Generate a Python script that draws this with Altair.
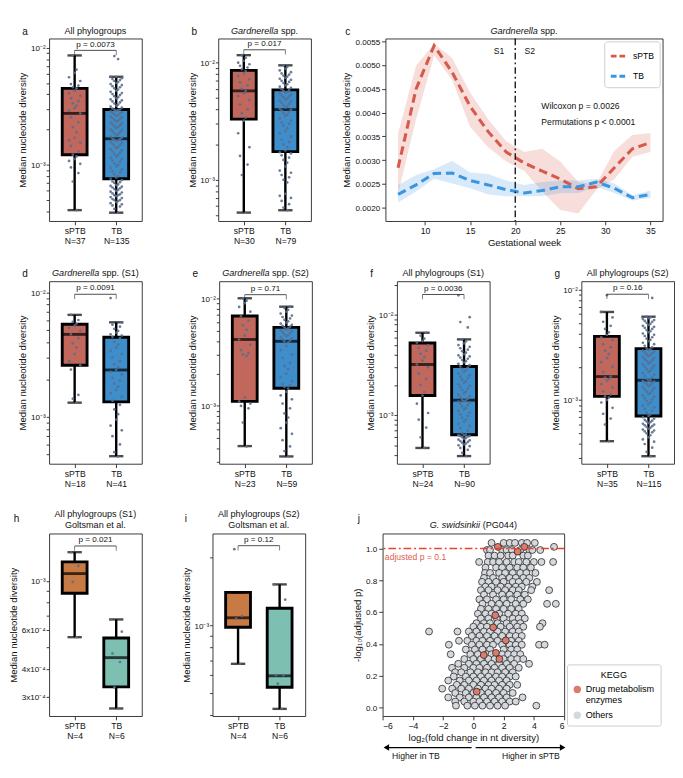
import altair as alt
import pandas as pd

FONT = "Liberation Sans"
RED_BOX = "#c1675c"
BLUE_BOX = "#3d8ecb"
ORANGE_BOX = "#c87a45"
TEAL_BOX = "#7dc0b2"
DOT = "#5a6e8d"
LINE_RED = "#d65a4c"
LINE_BLUE = "#3b96e0"
J_RED = "#dc7b6c"
J_GRAY = "#d5d9dd"
Y_TITLE = "Median nucleotide diversity"
WB = 97
H = 191

a_sptb = [0.41, 0.72, 0.85, 0.95, 1.02, 1.08, 1.12, 1.18, 1.22, 1.3, 1.45, 1.55, 1.62, 1.7, 1.9, 2.1, 2.3, 2.55,
          2.75, 2.9, 3.05, 3.2, 3.35, 3.5, 3.7, 3.9, 4.1, 4.3, 4.5, 4.6, 4.75, 4.9, 5.2, 5.6, 6.1, 6.5, 8.6]
a_tb = [0.39, 0.42, 0.44, 0.45, 0.46, 0.47, 0.48, 0.49, 0.50, 0.50, 0.51, 0.52, 0.53, 0.54, 0.55, 0.55, 0.56,
        0.57, 0.58, 0.59, 0.60, 0.61, 0.62, 0.63, 0.64, 0.65, 0.66, 0.67, 0.68, 0.70, 0.71, 0.72, 0.74, 0.76,
        0.78, 0.80, 0.83, 0.86, 0.88, 0.91, 0.94, 0.97, 1.0, 1.03, 1.06, 1.09, 1.12, 1.15, 1.18, 1.21, 1.24,
        1.27, 1.30, 1.33, 1.36, 1.39, 1.42, 1.45, 1.48, 1.51, 1.54, 1.57, 1.60, 1.62, 1.64, 1.66, 1.67,
        1.70, 1.74, 1.78, 1.82, 1.86, 1.90, 1.94, 1.98, 2.02, 2.06, 2.10, 2.14, 2.18, 2.22, 2.26, 2.30, 2.34,
        2.38, 2.42, 2.46, 2.50, 2.54, 2.58, 2.62, 2.66, 2.70, 2.74, 2.78, 2.82, 2.86, 2.90, 2.93, 2.95, 2.97,
        3.02, 3.08, 3.14, 3.2, 3.27, 3.34, 3.41, 3.48, 3.55, 3.62, 3.7, 3.78, 3.86, 3.94, 4.02, 4.1, 4.2, 4.3,
        4.4, 4.5, 4.6, 4.7, 4.8, 4.9, 5.0, 5.1, 5.2, 5.3, 5.4, 5.5, 5.65, 5.65, 8.0, 8.5]
a_stats = [[0.41, 1.22, 2.75, 4.5, 8.6], [0.39, 0.76, 1.67, 2.97, 5.65]]

b_sptb = [0.525, 1.1, 1.35, 1.6, 1.9, 2.5, 3.2, 3.4, 3.7, 4.0, 4.4, 4.8, 5.2, 5.5, 5.75, 6.0, 6.4, 6.8, 7.2, 7.7,
          8.1, 8.5, 8.8, 9.1, 9.4, 9.7, 10.0, 10.4, 11.0, 11.6]
b_tb = [0.55, 0.58, 0.62, 0.66, 0.70, 0.73, 0.76, 0.95, 1.0, 1.05, 1.1, 1.15, 1.2, 1.3, 1.4, 1.48, 1.55, 1.62,
        1.68, 1.72, 1.78, 1.9, 2.0, 2.1, 2.2, 2.35, 2.5, 2.6, 2.75, 2.9, 3.0, 3.1, 3.2, 3.35, 3.5, 3.6, 3.7, 3.8,
        3.9, 3.98, 4.05, 4.15, 4.25, 4.35, 4.45, 4.55, 4.65, 4.75, 4.85, 4.95, 5.05, 5.15, 5.25, 5.35, 5.45,
        5.55, 5.65, 5.75, 5.85, 5.95, 6.1, 6.25, 6.4, 6.55, 6.7, 6.85, 7.0, 7.15, 7.3, 7.45, 7.6, 7.75, 7.9,
        8.1, 8.3, 8.6, 8.9, 9.2, 9.5]
b_stats = [[0.525, 3.3, 5.75, 8.6, 11.6], [0.55, 1.74, 3.98, 5.86, 9.5]]

d_sptb = [1.3, 1.4, 1.5, 2.4, 2.6, 2.8, 3.2, 3.6, 3.9, 4.3, 4.6, 4.9, 5.2, 5.4, 5.6, 5.8, 6.0, 6.6]
d_tb = [0.48, 0.52, 0.6, 0.7, 0.78, 0.85, 0.95, 1.05, 1.15, 1.25, 1.35, 1.45, 1.55, 1.65, 1.75, 1.85, 1.95,
        2.05, 2.2, 2.3, 2.38, 2.5, 2.65, 2.8, 3.0, 3.2, 3.4, 3.6, 3.8, 4.0, 4.3, 4.4, 4.5, 4.6, 4.75, 4.9, 5.1,
        5.3, 5.5, 5.75, 9.0]
d_stats = [[1.3, 2.6, 4.6, 5.55, 6.6], [0.483, 1.32, 2.38, 4.36, 5.75]]

e_sptb = [0.42, 0.7, 0.95, 1.0, 1.05, 1.1, 1.2, 2.9, 3.0, 3.1, 3.3, 3.7, 4.14, 4.5, 5.1, 5.6, 6.2, 6.8, 7.5,
          8.3, 9.0, 9.5, 10.0]
e_tb = [0.34, 0.38, 0.42, 0.48, 0.55, 0.62, 0.7, 0.78, 0.85, 0.95, 1.05, 1.15, 1.25, 1.35, 1.45, 1.5, 1.55,
        1.6, 1.7, 1.85, 2.0, 2.2, 2.35, 2.5, 2.8, 3.0, 3.3, 3.6, 3.9, 3.98, 4.05, 4.15, 4.25, 4.35, 4.45, 4.55,
        4.65, 4.75, 4.85, 4.95, 5.05, 5.15, 5.25, 5.35, 5.45, 5.55, 5.65, 5.8, 5.95, 6.1, 6.3, 6.5, 6.7, 6.9,
        7.2, 7.5, 7.8, 8.1, 8.35]
e_stats = [[0.423, 1.1, 4.14, 6.84, 10.0], [0.339, 1.46, 3.98, 5.37, 8.35]]

f_sptb = [0.47, 0.6, 0.75, 0.9, 1.05, 1.3, 1.57, 1.7, 2.0, 2.3, 2.6, 3.0, 3.2, 3.5, 3.8, 4.1, 4.4, 4.7, 5.0,
          5.3, 5.5, 5.8, 6.2, 6.64]
f_tb = [0.39, 0.42, 0.45, 0.47, 0.49, 0.5, 0.51, 0.52, 0.53, 0.54, 0.55, 0.56, 0.57, 0.58, 0.59, 0.6, 0.61,
        0.62, 0.62, 0.63, 0.63, 0.64, 0.66, 0.7, 0.74, 0.78, 0.82, 0.86, 0.9, 0.94, 0.98, 1.02, 1.06, 1.1, 1.14,
        1.18, 1.22, 1.26, 1.3, 1.33, 1.36, 1.38, 1.4, 1.41, 1.45, 1.5, 1.55, 1.6, 1.66, 1.72, 1.78, 1.84, 1.9,
        1.96, 2.02, 2.1, 2.18, 2.26, 2.34, 2.42, 2.5, 2.6, 2.7, 2.8, 2.9, 2.98, 3.06, 3.15, 3.25, 3.35, 3.45,
        3.55, 3.65, 3.75, 3.85, 3.95, 4.05, 4.2, 4.35, 4.5, 4.65, 4.8, 5.0, 5.2, 5.45, 5.7, 7.5, 8.5, 9.5, 15.7]
f_stats = [[0.47, 1.57, 3.2, 5.25, 6.64], [0.39, 0.637, 1.41, 3.06, 5.7]]

g_sptb = [0.424, 0.6, 0.68, 0.75, 0.85, 0.95, 1.0, 1.05, 1.08, 1.12, 1.2, 1.3, 1.4, 1.5, 1.55, 1.6, 1.63, 1.8,
          2.0, 2.2, 2.4, 2.6, 2.8, 3.0, 3.2, 3.5, 3.7, 3.9, 4.1, 4.4, 4.7, 5.1, 5.6, 6.27, 8.9]
g_tb = [0.31, 0.34, 0.37, 0.4, 0.42, 0.44, 0.46, 0.48, 0.5, 0.51, 0.52, 0.53, 0.54, 0.55, 0.56, 0.57, 0.58,
        0.59, 0.6, 0.61, 0.62, 0.63, 0.64, 0.65, 0.66, 0.68, 0.7, 0.72, 0.74, 0.77, 0.8, 0.83, 0.86, 0.89, 0.92,
        0.95, 0.98, 1.01, 1.04, 1.07, 1.1, 1.13, 1.16, 1.19, 1.22, 1.25, 1.28, 1.31, 1.34, 1.37, 1.4, 1.43,
        1.45, 1.47, 1.49, 1.5, 1.51, 1.55, 1.6, 1.65, 1.7, 1.75, 1.8, 1.85, 1.9, 1.95, 2.0, 2.05, 2.1, 2.15,
        2.2, 2.25, 2.3, 2.35, 2.4, 2.45, 2.5, 2.55, 2.6, 2.65, 2.7, 2.75, 2.8, 2.85, 2.88, 2.92, 3.0, 3.1, 3.2,
        3.3, 3.4, 3.5, 3.6, 3.7, 3.8, 3.9, 4.0, 4.1, 4.2, 4.3, 4.4, 4.5, 4.6, 4.7, 4.8, 4.9, 5.0, 5.1, 5.2,
        5.3, 5.4, 5.5, 5.6, 5.68, 8.4]
g_stats = [[0.424, 1.08, 1.63, 3.77, 6.27], [0.31, 0.717, 1.51, 2.92, 5.68]]

h_sptb = [0.557, 0.99, 1.17, 1.35]
h_tb = [0.265, 0.33, 0.43, 0.47, 0.59, 0.67]
h_stats = [[0.557, 0.88, 1.08, 1.22, 1.35], [0.265, 0.332, 0.45, 0.552, 0.67]]

i_sptb = [0.674, 1.07, 1.1, 2.18]
i_tb = [0.425, 0.55, 0.6, 0.6, 1.3, 1.52]
i_stats = [[0.674, 0.98, 1.08, 1.4, 1.4], [0.425, 0.53, 0.596, 1.19, 1.52]]

WEEKS = [7, 9, 11, 13, 15, 17, 19, 21, 23, 25, 27, 29, 31, 33, 35]
SPTB_MEAN = [0.00284, 0.00450, 0.00541, 0.00485, 0.00413, 0.00360, 0.00317, 0.00294, 0.00277, 0.00260,
             0.00240, 0.00244, 0.00284, 0.00324, 0.00337]
SPTB_LO = [0.00230, 0.00386, 0.00520, 0.00469, 0.00370, 0.00327, 0.00297, 0.00277, 0.00234, 0.00195,
           0.00188, 0.00238, 0.00260, 0.00307, 0.00317]
SPTB_HI = [0.00356, 0.00499, 0.00545, 0.00515, 0.00442, 0.00386, 0.00340, 0.00317, 0.00324, 0.00297,
           0.00254, 0.00250, 0.00320, 0.00353, 0.00357]
TB_MEAN = [0.00228, 0.00248, 0.00272, 0.00273, 0.00257, 0.00248, 0.00238, 0.00231, 0.00236, 0.00244,
           0.00244, 0.00254, 0.00241, 0.00221, 0.00228]
TB_LO = [0.00211, 0.00234, 0.00261, 0.00251, 0.00241, 0.00228, 0.00224, 0.00224, 0.00224, 0.00231,
         0.00231, 0.00244, 0.00231, 0.00215, 0.00221]
TB_HI = [0.00248, 0.00269, 0.00281, 0.00299, 0.00274, 0.00271, 0.00257, 0.00248, 0.00254, 0.00257,
         0.00257, 0.00261, 0.00251, 0.00226, 0.00236]

J_GRAY_ROWS = [
    (1.035, [1.2, 2.0, 2.4, 2.75, 3.2, 3.55, 4.06]),
    (1.01, [5.33]),
    (0.99, [0.9, 1.1, 1.9, 2.2, 2.55, 3.1, 3.7, 3.9, 4.42]),
    (0.955, [1.0, 1.4, 1.8, 2.3, 2.6, 3.3, 3.6]),
    (0.915, [0.38, 0.95, 1.3, 1.7, 2.2, 2.7, 3.0, 3.5, 4.0, 4.5, 5.27]),
    (0.88, [0.8, 1.5, 1.9, 2.4, 2.9, 3.3, 3.8]),
    (0.846, [0.77, 1.1, 1.7, 2.1, 2.6, 3.1, 3.5, 4.1]),
    (0.815, [0.7, 1.3, 1.9, 2.4, 2.8, 3.3, 3.7]),
    (0.79, [0.57, 1.0, 1.5, 2.0, 2.6, 3.0, 3.5, 4.2]),
    (0.76, [0.8, 1.2, 1.8, 2.3, 2.8, 3.2, 3.9]),
    (0.738, [0.5, 1.0, 1.6, 2.1, 2.6, 3.0, 3.82, 5.01]),
    (0.71, [0.7, 1.3, 1.9, 2.4, 2.9, 3.4]),
    (0.68, [0.4, 0.9, 1.5, 2.0, 2.5, 3.1, 3.6]),
    (0.652, [0.6, 1.2, 1.7, 2.2, 2.8, 3.3, 4.87, 5.45]),
    (0.62, [0.5, 1.0, 1.5, 2.0, 2.5, 3.0]),
    (0.59, [0.3, 0.8, 1.2, 1.7, 2.3, 2.8, 3.2]),
    (0.56, [0.5, 1.0, 1.55, 2.0, 2.6, 3.0, 3.4]),
    (0.53, [0.2, 0.7, 1.1, 1.6, 2.2, 2.7, 3.1, 4.57]),
    (0.508, [0.0, 0.5, 0.9, 1.8, 2.4, 2.9, 3.3, 4.4]),
    (0.478, [-2.93, -1.05, -0.3, 0.2, 0.7, 1.1, 1.6, 2.1, 2.6, 3.0]),
    (0.45, [-0.1, 0.4, 0.9, 1.4, 1.9, 2.4, 2.8, 3.2]),
    (0.42, [-0.95, -0.4, 0.2, 0.6, 1.1, 1.6, 2.5, 3.0]),
    (0.395, [-1.62, -0.1, 0.4, 0.9, 1.3, 1.9, 2.4, 2.8, 3.2, 4.34, 4.71]),
    (0.365, [-0.5, 0.1, 0.6, 1.1, 2.0, 2.5, 2.9]),
    (0.335, [-1.5, -0.2, 0.3, 0.9, 1.2, 1.9, 2.3, 2.7, 3.1]),
    (0.305, [-0.6, 0.0, 0.5, 1.0, 1.4, 2.0, 2.5, 2.9, 3.3]),
    (0.275, [-1.0, -0.3, 0.2, 0.7, 1.2, 1.7, 2.2, 2.7, 3.68]),
    (0.25, [-1.41, -0.6, 0.0, 0.4, 0.9, 1.4, 1.9, 2.4, 3.0]),
    (0.222, [-1.2, -0.8, -0.2, 0.3, 0.8, 1.2, 1.6, 2.1, 2.6]),
    (0.195, [-1.3, -0.5, 0.0, 0.5, 1.0, 1.5, 1.9, 2.4, 2.8]),
    (0.17, [-1.66, -0.9, -0.3, 0.2, 0.7, 1.2, 1.7, 2.2]),
    (0.143, [-1.1, -0.6, 0.0, 0.5, 1.0, 1.4, 1.9, 2.4, 2.9]),
    (0.119, [-2.06, -1.4, -0.8, -0.3, 0.3, 0.8, 1.2, 1.7, 2.2]),
    (0.092, [-1.2, -0.5, 0.0, 0.5, 1.0, 1.5, 2.0, 2.6]),
    (0.064, [-1.66, -0.9, -0.3, 0.2, 0.7, 1.2, 1.7, 2.2, 3.25]),
    (0.038, [-1.2, -0.6, 0.0, 0.4, 0.9, 1.4, 1.9, 2.4, 2.8]),
    (0.012, [-1.15, -0.4, 0.1, 0.6, 1.1, 1.6, 2.1, 4.16]),
]
J_RED_X = [1.62, 3.37, 2.93, 1.45, 1.31, 2.14, 0.69, 1.49, 1.72, 0.22]
J_RED_Y = [1.01, 1.01, 0.98, 0.58, 0.504, 0.422, 0.33, 0.344, 0.305, 0.10]
DRUG = "Drug metabolism enzymes"
OTHERS = "Others"

CW = {' ': 278, '(': 333, ')': 333, '.': 278, '-': 333, '=': 584, 'A': 667, 'G': 778, 'P': 667, 'S': 667,
      'T': 611, 'B': 667, 'N': 722, 'a': 556, 'b': 556, 'c': 500, 'd': 556, 'e': 556, 'g': 556, 'h': 556,
      'i': 222, 'k': 500, 'l': 222, 'm': 833, 'n': 556, 'o': 556, 'p': 556, 'r': 333, 's': 500, 't': 278,
      'u': 556, 'w': 722, 'y': 500}
ONE = pd.DataFrame({"k": [0]})
IND = dict(color="independent", fill="independent", shape="independent")
AX = dict(grid=False, domain=False, labelFontSize=8.5, titleFontSize=10, titleFontWeight="normal",
          labelColor="#111", titleColor="#111", tickColor="#333", labelFont=FONT, titleFont=FONT)


def text_w(s, size):
    return sum(CW.get(ch, 556) for ch in s) * size / 1000.0


def title_layers(lines, width, size=9.5):
    out = []
    for ypx, segs in lines:
        total = sum(text_w(t, size) for t, _ in segs)
        x = width / 2.0 - total / 2.0
        for t, style in segs:
            stripped = t.lstrip(" ")
            x += text_w(t[:len(t) - len(stripped)], size)
            out.append(alt.Chart(ONE).mark_text(align="left", baseline="alphabetic", fontSize=size,
                                                fontStyle=style, color="#111", text=stripped)
                       .encode(x=alt.value(x), y=alt.value(ypx)))
            x += text_w(stripped, size)
    return out


def letter_layer(letter, dx, dy):
    return alt.Chart(ONE).mark_text(align="left", baseline="middle", fontSize=10.5, color="#111", text=letter) \
        .encode(x=alt.value(dx), y=alt.value(dy))


def dec_ticks(lo, hi):
    out = []
    for e in range(-5, -1):
        for k in range(1, 10):
            v = float(f"{k}e{e}")
            if lo <= v <= hi:
                out.append(v)
    return out


def label_expr(labels):
    expr = "''"
    for v, lab in labels:
        expr = f"abs(datum.value - {v}) < {v / 1000} ? '{lab}' : ({expr})"
    return expr


def box_panel(letter, letter_dx, letter_dy, tlines, dots, stats, fills, ns, ydom_e3, labels, bracket_e3,
              ptext, width=WB, height=H):
    ydom = [ydom_e3[0] * 1e-3, ydom_e3[1] * 1e-3]
    xs = alt.Scale(domain=[-0.5, 1.5], nice=False, zero=False)
    ys = alt.Scale(type="log", domain=ydom, nice=False)
    yaxis = alt.Axis(values=dec_ticks(*ydom), labelExpr=label_expr(labels), title=Y_TITLE,
                     tickSize=3, labelPadding=1, titlePadding=3, labelOverlap=False, **AX)
    xaxis = alt.Axis(values=[0, 1], title=None, tickSize=4, labelPadding=2, labelFlush=False,
                     labelOverlap=False, labelLineHeight=11,
                     labelExpr=f"datum.value < 0.5 ? ['sPTB', 'N={ns[0]}'] : ['TB', 'N={ns[1]}']",
                     **{**AX, "labelFontSize": 9})
    box_df = pd.DataFrame({
        "g": [0, 1],
        "lo": [s[0] * 1e-3 for s in stats], "q1": [s[1] * 1e-3 for s in stats],
        "med": [s[2] * 1e-3 for s in stats], "q3": [s[3] * 1e-3 for s in stats],
        "hi": [s[4] * 1e-3 for s in stats], "fill": fills})
    rows = []
    for gi, vals in enumerate(dots):
        for v in vals:
            rows.append({"g": gi, "v": v * 1e-3})
    dot_df = pd.DataFrame(rows)

    def X(f):
        return alt.X(f, scale=xs, axis=xaxis)

    def Y(f):
        return alt.Y(f, scale=ys, axis=yaxis)

    whisk = alt.Chart(box_df).mark_rule(color="black", strokeWidth=2.5).encode(
        x=X("g:Q"), y=Y("lo:Q"), y2="hi:Q")
    box = alt.Chart(box_df).mark_bar(size=26, stroke="black", strokeWidth=3).encode(
        x=X("g:Q"), y=Y("q1:Q"), y2="q3:Q", fill=alt.Fill("fill:N", scale=None))
    med = alt.Chart(box_df).mark_tick(orient="horizontal", size=26, thickness=3, color="black").encode(
        x=X("g:Q"), y=Y("med:Q"))
    cap_lo = alt.Chart(box_df).mark_tick(orient="horizontal", size=15, thickness=2.5, color="black").encode(
        x=X("g:Q"), y=Y("lo:Q"))
    cap_hi = alt.Chart(box_df).mark_tick(orient="horizontal", size=15, thickness=2.5, color="black").encode(
        x=X("g:Q"), y=Y("hi:Q"))
    pts = alt.Chart(dot_df).transform_window(
        rn="row_number()", groupby=["g"], sort=[alt.SortField("v")]
    ).transform_calculate(
        jx="datum.g + [0, 1, -1, 2, -2, 3, -3][datum.rn % 7] * 0.045"
    ).mark_circle(size=8, color=DOT, opacity=0.9).encode(x=X("jx:Q"), y=Y("v:Q"))
    br_df = pd.DataFrame({"x0": [0.0], "x1": [1.0], "xm": [0.5], "y": [bracket_e3 * 1e-3], "t": [ptext]})
    br = alt.Chart(br_df).mark_rule(color="#333", strokeWidth=0.9).encode(x=X("x0:Q"), x2="x1:Q", y=Y("y:Q"))
    end_df = pd.DataFrame({"x": [0.0, 1.0], "y": [bracket_e3 * 1e-3] * 2})
    ends = alt.Chart(end_df).mark_tick(orient="vertical", size=5, thickness=0.9, color="#333", yOffset=2.5) \
        .encode(x=X("x:Q"), y=Y("y:Q"))
    ptx = alt.Chart(br_df).mark_text(fontSize=8.5, baseline="bottom", dy=-2, color="#111").encode(
        x=X("xm:Q"), y=Y("y:Q"), text="t:N")
    layers = [whisk, box, med, cap_lo, cap_hi, pts, br, ends, ptx, letter_layer(letter, letter_dx, letter_dy)]
    layers += title_layers(tlines, width)
    return alt.layer(*layers).properties(width=width, height=height)


def c_panel(width=290, height=H):
    xs = alt.Scale(domain=[5.6, 36.35], nice=False, zero=False)
    ys = alt.Scale(domain=[0.00172, 0.00556], nice=False, zero=False)
    rows = []
    for i, w in enumerate(WEEKS):
        rows.append({"week": w, "group": "sPTB", "m": SPTB_MEAN[i], "lo": SPTB_LO[i], "hi": SPTB_HI[i]})
        rows.append({"week": w, "group": "TB", "m": TB_MEAN[i], "lo": TB_LO[i], "hi": TB_HI[i]})
    df = pd.DataFrame(rows)
    xaxis = alt.Axis(values=[10, 15, 20, 25, 30, 35], title="Gestational week", tickSize=4, labelPadding=2,
                     titlePadding=3, **{**AX, "labelFontSize": 9})
    yaxis = alt.Axis(values=[0.002, 0.0025, 0.003, 0.0035, 0.004, 0.0045, 0.005, 0.0055], format=".4f",
                     title=Y_TITLE, tickSize=4, labelPadding=2, titlePadding=4, **AX)

    def X(f):
        return alt.X(f, scale=xs, axis=xaxis)

    def Y(f):
        return alt.Y(f, scale=ys, axis=yaxis)

    band_r = alt.Chart(df[df.group == "sPTB"]).mark_area(color=LINE_RED, opacity=0.2).encode(
        x=X("week:Q"), y=Y("lo:Q"), y2="hi:Q")
    band_b = alt.Chart(df[df.group == "TB"]).mark_area(color=LINE_BLUE, opacity=0.2).encode(
        x=X("week:Q"), y=Y("lo:Q"), y2="hi:Q")
    line = alt.Chart(df).mark_line(strokeWidth=3.2, strokeDash=[9, 5]).encode(
        x=X("week:Q"), y=Y("m:Q"),
        color=alt.Color("group:N", scale=alt.Scale(domain=["sPTB", "TB"], range=[LINE_RED, LINE_BLUE]),
                        legend=alt.Legend(title=None, orient="top-right", offset=3, symbolType="stroke",
                                          symbolDash=[6, 3], symbolStrokeWidth=3, symbolSize=300,
                                          labelFontSize=9, labelFont=FONT, padding=5, strokeColor="#cccccc",
                                          fillColor="white", cornerRadius=3, rowPadding=4)))
    vline = alt.Chart(pd.DataFrame({"w": [20]})).mark_rule(color="black", strokeWidth=1.3,
                                                         strokeDash=[7, 3, 2, 3]).encode(x=X("w:Q"))
    txt = pd.DataFrame({"x": [18.2, 21.6, 22.9, 22.9], "y": [0.0053, 0.0053, 0.00413, 0.00380],
                        "t": ["S1", "S2", "Wilcoxon p = 0.0026", "Permutations p < 0.0001"],
                        "a": ["center", "center", "left", "left"]})
    tc = alt.Chart(txt[txt.a == "center"]).mark_text(fontSize=9, align="center", color="#111").encode(
        x=X("x:Q"), y=Y("y:Q"), text="t:N")
    tl = alt.Chart(txt[txt.a == "left"]).mark_text(fontSize=9, align="left", color="#111").encode(
        x=X("x:Q"), y=Y("y:Q"), text="t:N")
    layers = [band_r, band_b, line, vline, tc, tl, letter_layer("c", -42, -7)]
    layers += title_layers([(-5, [("Gardnerella", "italic"), (" spp.", "normal")])], width)
    return alt.layer(*layers).properties(width=width, height=height)


def j_panel(width=190, height=H):
    xs = alt.Scale(domain=[-6, 6], nice=False, zero=False)
    ys = alt.Scale(domain=[-0.053, 1.094], nice=False, zero=False)
    rows = []
    for yv, xl in J_GRAY_ROWS:
        for xv in xl:
            rows.append({"x": xv, "y": yv, "cat": OTHERS, "z": 0})
    for xv, yv in zip(J_RED_X, J_RED_Y):
        rows.append({"x": xv, "y": yv, "cat": DRUG, "z": 1})
    df = pd.DataFrame(rows)
    xaxis = alt.Axis(values=[-6, -4, -2, 0, 2, 4, 6], format="d", tickSize=4, labelPadding=2, titlePadding=3,
                     title="log₂(fold change in nt diversity)", **{**AX, "labelFontSize": 9})
    yaxis = alt.Axis(values=[0.0, 0.2, 0.4, 0.6, 0.8, 1.0], format=".1f", tickSize=4, labelPadding=2,
                     titlePadding=3, title="-log₁₀(adjusted p)", **AX)

    def X(f):
        return alt.X(f, scale=xs, axis=xaxis)

    def Y(f):
        return alt.Y(f, scale=ys, axis=yaxis)

    sc = alt.Chart(df).mark_circle(size=52, stroke="#222", strokeWidth=0.8, opacity=1).encode(
        x=X("x:Q"), y=Y("y:Q"),
        fill=alt.Fill("cat:N", scale=alt.Scale(domain=[DRUG, OTHERS], range=[J_RED, J_GRAY]),
                      legend=alt.Legend(title="KEGG", orient="none", legendX=width + 3, legendY=height - 54,
                                        titleAnchor="middle", titleFontWeight="normal", titleFontSize=9.5,
                                        labelFontSize=9.5, labelFont=FONT, titleFont=FONT,
                                        symbolType="circle", symbolSize=60,
                                        symbolStrokeWidth=0, strokeColor="#cccccc", padding=6,
                                        cornerRadius=2, rowPadding=5, titlePadding=6, fillColor="white",
                                        labelExpr="datum.label == 'Drug metabolism enzymes' ? "
                                                  "['Drug metabolism', 'enzymes'] : datum.label")),
        order=alt.Order("z:Q"))
    hline = alt.Chart(pd.DataFrame({"y": [1.0]})).mark_rule(color="#e8412f", strokeWidth=1.5,
                                                          strokeDash=[8, 3, 2, 3]).encode(y=Y("y:Q"))
    adj = alt.Chart(pd.DataFrame({"x": [-5.85], "y": [0.945], "t": ["adjusted p = 0.1"]})).mark_text(
        align="left", fontSize=9, color="#e0604f").encode(x=X("x:Q"), y=Y("y:Q"), text="t:N")
    arr = alt.Chart(pd.DataFrame({"x0": [-5.8, 0.15], "x1": [-0.12, 6.0]})).mark_rule(
        color="black", strokeWidth=1.3).encode(x=X("x0:Q"), x2="x1:Q", y=alt.value(height + 33))
    heads = alt.Chart(pd.DataFrame({"x": [-5.75, 5.9], "s": ["triangle-left", "triangle-right"]})).mark_point(
        filled=True, size=45, color="black", opacity=1).encode(
        x=X("x:Q"), y=alt.value(height + 33), shape=alt.Shape("s:N", scale=None))
    lab = alt.Chart(pd.DataFrame({"x": [-3.8, 3.8], "t": ["Higher in TB", "Higher in sPTB"]})).mark_text(
        fontSize=9, baseline="middle", color="#111").encode(x=X("x:Q"), y=alt.value(height + 42), text="t:N")
    layers = [sc, hline, adj, arr, heads, lab, letter_layer("j", -26, -15)]
    layers += title_layers([(-6, [("G. swidsinkii", "italic"), (" (PG044)", "normal")])], width)
    return alt.layer(*layers).properties(width=width, height=height)


def hc(a, b, spacing):
    return alt.hconcat(a, b, spacing=spacing).resolve_scale(**IND).resolve_legend(**IND)


LBL2 = [(0.01, "10⁻²"), (0.001, "10⁻³")]
LBL3 = [(0.001, "10⁻³")]
LBLH = [(0.001, "10⁻³"), (0.0006, "6x10⁻⁴"), (0.0004, "4x10⁻⁴"), (0.0003, "3x10⁻⁴")]

pa = box_panel("a", -28, -7, [(-5, [("All phylogroups", "normal")])], [a_sptb, a_tb], a_stats,
               [RED_BOX, BLUE_BOX], [37, 135], [0.331, 12.0], LBL2, 9.5, "p = 0.0073")
pb = box_panel("b", -28, -7, [(-5, [("Gardnerella", "italic"), (" spp.", "normal")])], [b_sptb, b_tb], b_stats,
               [RED_BOX, BLUE_BOX], [30, 79], [0.445, 16.1], LBL2, 12.9, "p = 0.017")
pd_ = box_panel("d", -28, -7, [(-5, [("Gardnerella", "italic"), (" spp. (S1)", "normal")])], [d_sptb, d_tb],
                d_stats, [RED_BOX, BLUE_BOX], [18, 41], [0.42, 12.3], LBL2, 9.66, "p = 0.0091")
pe = box_panel("e", -28, -7, [(-5, [("Gardnerella", "italic"), (" spp. (S2)", "normal")])], [e_sptb, e_tb],
               e_stats, [RED_BOX, BLUE_BOX], [23, 59], [0.29, 14.4], LBL2, 10.8, "p = 0.71")
pf = box_panel("f", -28, -7, [(-5, [("All phylogroups (S1)", "normal")])], [f_sptb, f_tb], f_stats,
               [RED_BOX, BLUE_BOX], [24, 90], [0.327, 21.7], LBL2, 16.0, "p = 0.0036")
pg = box_panel("g", -28, -7, [(-5, [("All phylogroups (S2)", "normal")])], [g_sptb, g_tb], g_stats,
               [RED_BOX, BLUE_BOX], [35, 115], [0.265, 11.9], LBL2, 9.07, "p = 0.16")
ph = box_panel("h", -37, -15, [(-17, [("All phylogroups (S1)", "normal")]), (-6, [("Goltsman et al.", "normal")])],
               [h_sptb, h_tb], h_stats, [ORANGE_BOX, TEAL_BOX], [4, 6], [0.245, 1.64], LBLH, 1.44, "p = 0.021")
pi = box_panel("i", -29, -15, [(-17, [("All phylogroups (S2)", "normal")]), (-6, [("Goltsman et al.", "normal")])],
               [i_sptb, i_tb], i_stats, [ORANGE_BOX, TEAL_BOX], [4, 6], [0.395, 2.56], LBL3, 2.26, "p = 0.12")
pc = c_panel()
pj = j_panel()

row1 = hc(hc(pa, pb, 46), pc, 30)
row2 = hc(hc(hc(pd_, pe, 47), pf, 55), pg, 62)
row3 = hc(hc(ph, pi, 40), pj, 48)

chart = alt.vconcat(row1, row2, row3, spacing=20).resolve_scale(**IND).resolve_legend(**IND).configure(
    font=FONT, padding={"left": 0, "top": 0, "right": 0, "bottom": 0}
).configure_view(stroke="#333", strokeWidth=1)

chart.save("out.html", embed_options={"renderer": "svg", "actions": False})
